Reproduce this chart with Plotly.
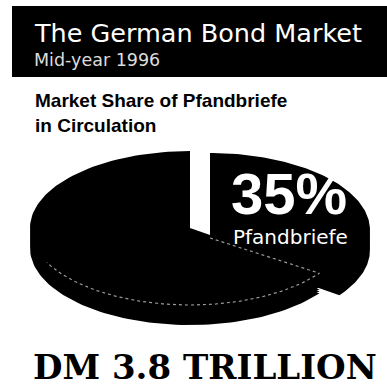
import numpy as np
import plotly.graph_objects as go

# ---- data ----
categories = ["Pfandbriefe", "Other bonds"]
shares = [35, 65]          # percent of market
total_label = "DM 3.8 TRILLION"
title = "The German Bond Market"
subtitle = "Mid-year 1996"
chart_title = "Market Share of Pfandbriefe<br>in Circulation"

# ---- pie geometry (style) ----
CX, CY = 190, 228      # centre of top face (pixel coords)
RX, RY = 160, 77       # ellipse radii
DEPTH = 20             # thickness of the pie
EXPLODE = {0: (20, 2), 1: (0, 0)}

fig = go.Figure()

def sector(a1, a2, dx, dy, off):
    t = np.linspace(a1, a2, 120)
    xs = [CX + dx] + list(CX + dx + RX * np.sin(t)) + [CX + dx]
    ys = [CY + dy + off] + list(CY + dy + off - RY * np.cos(t)) + [CY + dy + off]
    return xs, ys

total = sum(shares)
start = 0.0
for i, (cat, val) in enumerate(zip(categories, shares)):
    a1 = start
    a2 = start + 2 * np.pi * val / total
    start = a2
    dx, dy = EXPLODE[i]
    X, Y = [], []
    for off in np.linspace(DEPTH, 0, 11):
        xs, ys = sector(a1, a2, dx, dy, off)
        X += xs + [None]
        Y += ys + [None]
    fig.add_trace(go.Scatter(x=X, y=Y, fill="toself", fillcolor="black",
                             mode="lines", line=dict(width=0, color="black"),
                             hoverinfo="skip", showlegend=False, name=cat))
    if i == 1:
        # faint dotted edge of the top face (front arc and cut edge)
        t = np.linspace(a1, 4.25, 80)
        ex = list(CX + RX * np.sin(t))
        ey = list(CY - RY * np.cos(t))
        fig.add_trace(go.Scatter(x=[CX + 20] + ex, y=[CY + 10] + ey, mode="lines",
                                 line=dict(color="rgba(255,255,255,0.6)", width=1.2, dash="dot"),
                                 hoverinfo="skip", showlegend=False))

# header box
fig.add_shape(type="rect", x0=12, x1=387, y0=6, y1=77, fillcolor="black", line_width=0, layer="below")

ann = []
ann.append(dict(x=32, y=33, text=title, font=dict(family="DejaVu Sans", size=25.5, color="white"),
                xanchor="left", yanchor="middle", showarrow=False))
ann.append(dict(x=32, y=60, text=subtitle, font=dict(family="DejaVu Sans", size=17.5, color="#dddddd"),
                xanchor="left", yanchor="middle", showarrow=False))
ann.append(dict(x=33, y=113, text="<b>" + chart_title + "</b>",
                font=dict(family="Liberation Sans", size=19, color="black"),
                xanchor="left", yanchor="middle", align="left", showarrow=False))
ann.append(dict(x=289, y=193, text="<b>%d%%</b>" % shares[0],
                font=dict(family="Liberation Sans", size=58, color="white"),
                xanchor="center", yanchor="middle", showarrow=False))
ann.append(dict(x=290, y=237, text=categories[0],
                font=dict(family="DejaVu Sans", size=20, color="white"),
                xanchor="center", yanchor="middle", showarrow=False))
ann.append(dict(x=205, y=367, text="<b>" + total_label + "</b>",
                font=dict(family="DejaVu Serif", size=34, color="black"),
                xanchor="center", yanchor="middle", showarrow=False))

fig.update_layout(
    width=387, height=390, margin=dict(l=0, r=0, t=0, b=0),
    paper_bgcolor="white", plot_bgcolor="white",
    xaxis=dict(range=[0, 387], visible=False, fixedrange=True),
    yaxis=dict(range=[390, 0], visible=False, fixedrange=True),
    annotations=ann, showlegend=False,
)
fig.write_html("out.html")
